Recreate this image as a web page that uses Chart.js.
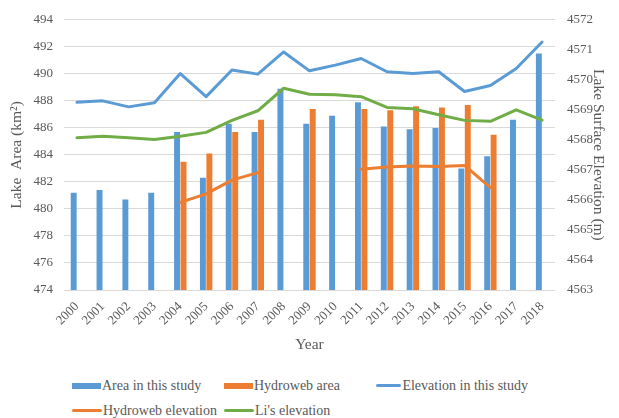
<!DOCTYPE html>
<html>
<head>
<meta charset="utf-8">
<script src="https://cdn.jsdelivr.net/npm/chart.js@4/dist/chart.umd.min.js"></script>
<style>
  body { margin: 0; background: #fff; width: 619px; height: 418px; overflow: hidden; }
  #wrap { position: absolute; left: 0; top: 0; width: 619px; height: 360px; }
  #legend { position: absolute; left: 72px; top: 373px; width: 540px;
            font-family: "Liberation Serif", "DejaVu Serif", serif; font-size: 14px; color: #595959; }
  .row { height: 25px; display: flex; align-items: center; }
  .item { width: 152px; display: flex; align-items: center; white-space: nowrap; }
  .box { width: 29px; height: 6px; margin-right: 1px; }
  .ln { width: 30px; height: 3px; border-radius: 2px; margin-right: 1px; }
</style>
</head>
<body>
<div id="wrap"><canvas id="lakeChart"></canvas></div>
<div id="legend"></div>
<script>
// categories
const years = ["2000","2001","2002","2003","2004","2005","2006","2007","2008","2009",
               "2010","2011","2012","2013","2014","2015","2016","2017","2018"];

// lake area (km2), left axis
const areaThisStudy = [481.2, 481.4, 480.7, 481.2, 485.7, 482.3, 486.3, 485.7, 488.9, 486.3,
                       486.9, 487.9, 486.1, 485.9, 486.0, 483.0, 483.9, 486.6, 491.5];
const hydrowebArea = [null, null, null, null, 483.5, 484.1, 485.7, 486.6, null, 487.4,
                      null, 487.4, 487.3, 487.6, 487.5, 487.7, 485.5, null, null];

// lake surface elevation (m), right axis
const elevThisStudy = [4569.25, 4569.30, 4569.10, 4569.24, 4570.21, 4569.44, 4570.33, 4570.19, 4570.93, 4570.30,
                       4570.49, 4570.71, 4570.27, 4570.21, 4570.27, 4569.61, 4569.81, 4570.38, 4571.26];
const hydrowebElev = [null, null, null, null, 4565.92, 4566.20, 4566.66, 4566.91, null, null,
                      null, 4567.02, 4567.10, 4567.13, 4567.11, 4567.15, 4566.41, null, null];
const liElev = [4568.07, 4568.12, 4568.07, 4568.01, 4568.12, 4568.25, 4568.65, 4568.97, 4569.72, 4569.52,
                4569.50, 4569.44, 4569.08, 4569.04, 4568.84, 4568.65, 4568.62, 4569.00, 4568.66];

const BLUE = '#5B9BD5';
const ORANGE = '#ED7D31';
const GREEN = '#70AD47';
const TEXT = '#595959';
const SERIF = "'Liberation Serif', 'DejaVu Serif', serif";

Chart.defaults.font.family = SERIF;
Chart.defaults.color = TEXT;

const datasets = [
    { type: 'bar', label: 'Area in this study', data: areaThisStudy, backgroundColor: BLUE,
      yAxisID: 'y', order: 2, barPercentage: 0.92, categoryPercentage: 0.5 },
    { type: 'bar', label: 'Hydroweb area', data: hydrowebArea, backgroundColor: ORANGE,
      yAxisID: 'y', order: 2, barPercentage: 0.92, categoryPercentage: 0.5 },
    { type: 'line', label: 'Elevation in this study', data: elevThisStudy, borderColor: BLUE,
      yAxisID: 'y1', order: 1 },
    { type: 'line', label: 'Hydroweb elevation', data: hydrowebElev, borderColor: ORANGE,
      yAxisID: 'y1', order: 1 },
    { type: 'line', label: "Li's elevation", data: liElev, borderColor: GREEN,
      yAxisID: 'y1', order: 1 }
];
datasets.forEach(d => {
    if (d.type === 'line') {
        d.borderWidth = 3;
        d.pointRadius = 0;
        d.tension = 0;
        d.spanGaps = false;
        d.borderCapStyle = 'round';
        d.borderJoinStyle = 'round';
    }
});

const tickFont = { family: SERIF, size: 13 };
const titleFont = { family: SERIF, size: 15.5 };

const ctx = document.getElementById('lakeChart').getContext('2d');
new Chart(ctx, {
    data: { labels: years, datasets: datasets },
    options: {
        responsive: true,
        maintainAspectRatio: false,
        animation: false,
        layout: { padding: { top: 0, left: 8, right: 12, bottom: 0 } },
        plugins: { legend: { display: false }, tooltip: { enabled: false } },
        scales: {
            x: {
                grid: { display: false },
                border: { display: false },
                ticks: { font: tickFont, color: TEXT, maxRotation: 45, minRotation: 45, autoSkip: false, padding: 1 },
                title: { display: true, text: 'Year', font: titleFont, color: TEXT, padding: { top: 2, bottom: 6 } },
                afterFit: s => { s.height = 70; }
            },
            y: {
                position: 'left',
                min: 474, max: 494,
                grid: { color: '#D9D9D9', lineWidth: 1, drawTicks: false },
                border: { display: false },
                ticks: { stepSize: 2, font: tickFont, color: TEXT, padding: 11 },
                title: { display: true, text: 'Lake  Area (km²)', font: titleFont, color: TEXT, padding: 0 },
                afterFit: s => { s.width = 56; }
            },
            y1: {
                position: 'right',
                min: 4563, max: 4572,
                grid: { drawOnChartArea: false, drawTicks: false },
                border: { display: false },
                ticks: { stepSize: 1, font: tickFont, color: TEXT, padding: 12, callback: v => String(v) },
                title: { display: true, text: 'Lake Surface Elevation (m)', font: titleFont, color: TEXT, padding: 0 },
                afterFit: s => { s.width = 52; }
            }
        }
    }
});

// legend laid out in two rows like the original
const legendRows = [[0, 1, 2], [3, 4]];
const legendEl = document.getElementById('legend');
legendRows.forEach(r => {
    const row = document.createElement('div');
    row.className = 'row';
    r.forEach(i => {
        const d = datasets[i];
        const item = document.createElement('div');
        item.className = 'item';
        const mark = document.createElement('span');
        mark.className = d.type === 'bar' ? 'box' : 'ln';
        mark.style.background = d.type === 'bar' ? d.backgroundColor : d.borderColor;
        item.appendChild(mark);
        item.appendChild(document.createTextNode(d.label));
        row.appendChild(item);
    });
    legendEl.appendChild(row);
});
</script>
</body>
</html>
